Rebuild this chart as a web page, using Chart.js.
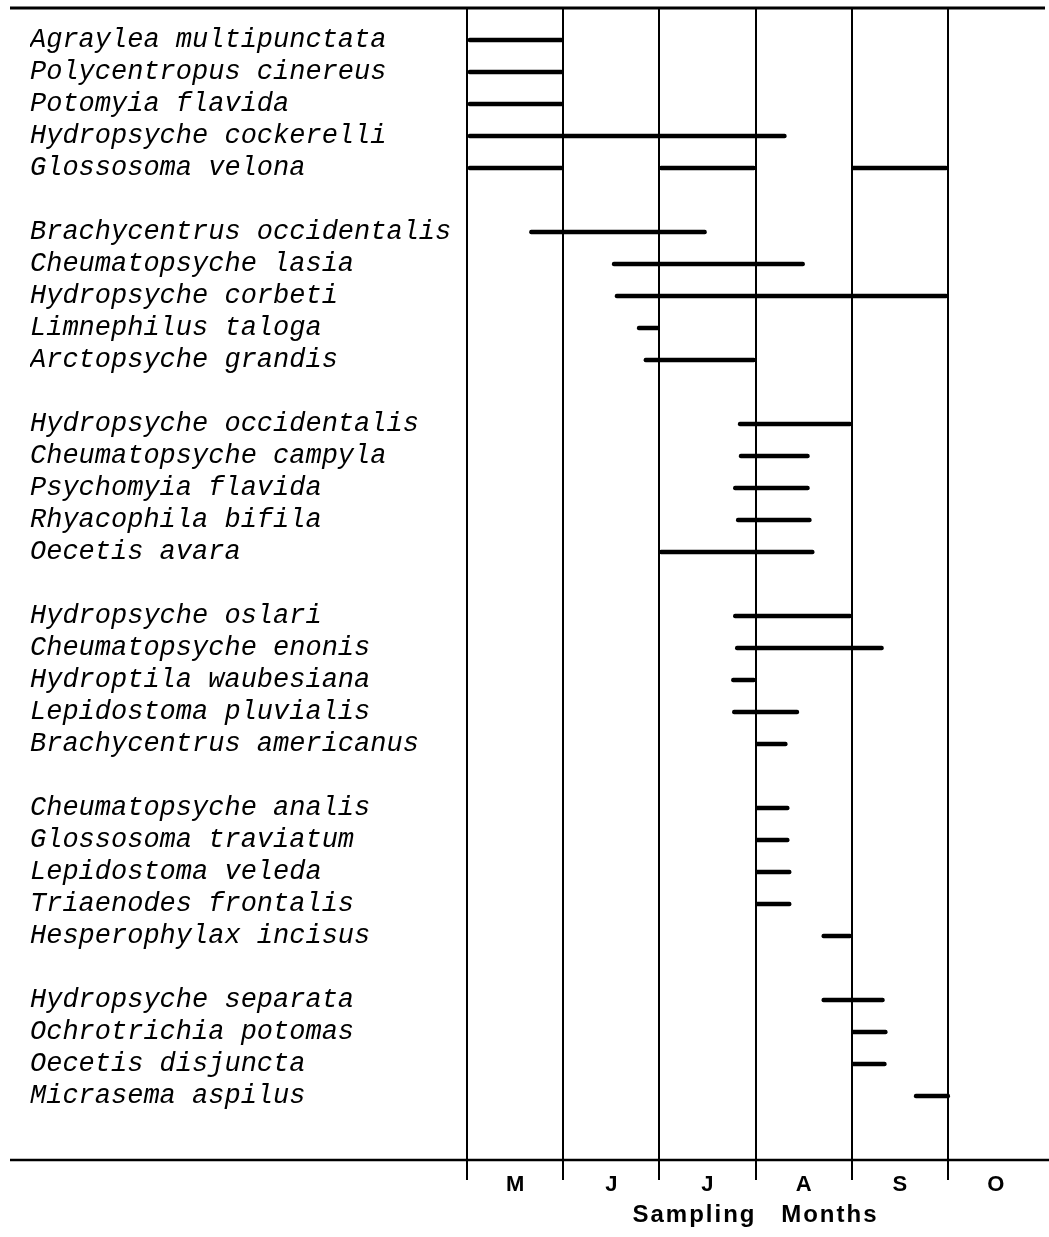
<!DOCTYPE html>
<html><head><meta charset="utf-8">
<script src="https://cdn.jsdelivr.net/npm/chart.js@4/dist/chart.umd.min.js"></script>
<style>html,body{margin:0;padding:0;background:#fff;} canvas{display:block;}</style>
</head><body>
<canvas id="c" width="1049" height="1237"></canvas>
<script>
// ---- data ----
const months = ['M', 'J', 'J', 'A', 'S', 'O'];
const groupSizes = [5, 5, 5, 5, 5, 4];
const species = [
  'Agraylea multipunctata', 'Polycentropus cinereus', 'Potomyia flavida', 'Hydropsyche cockerelli', 'Glossosoma velona',
  'Brachycentrus occidentalis', 'Cheumatopsyche lasia', 'Hydropsyche corbeti', 'Limnephilus taloga', 'Arctopsyche grandis',
  'Hydropsyche occidentalis', 'Cheumatopsyche campyla', 'Psychomyia flavida', 'Rhyacophila bifila', 'Oecetis avara',
  'Hydropsyche oslari', 'Cheumatopsyche enonis', 'Hydroptila waubesiana', 'Lepidostoma pluvialis', 'Brachycentrus americanus',
  'Cheumatopsyche analis', 'Glossosoma traviatum', 'Lepidostoma veleda', 'Triaenodes frontalis', 'Hesperophylax incisus',
  'Hydropsyche separata', 'Ochrotrichia potomas', 'Oecetis disjuncta', 'Micrasema aspilus'
];
// months since start of May (0 = 1 May, 1 = 1 June, ...)
const firstFrom = [
  0.00, 0.00, 0.00, 0.00, 0.00,
  0.65, 1.51, 1.54, 1.77, 1.84,
  2.82, 2.83, 2.77, 2.80, 2.00,
  2.77, 2.79, 2.75, 2.76, 3.00,
  3.00, 3.00, 3.00, 3.00, 3.69,
  3.69, 4.00, 4.00, 4.65
];
const firstTo = [
  1.00, 1.00, 1.00, 3.32, 1.00,
  2.49, 3.51, 5.00, 2.00, 3.00,
  4.00, 3.56, 3.56, 3.58, 3.61,
  4.00, 4.33, 3.00, 3.45, 3.33,
  3.35, 3.35, 3.37, 3.37, 4.00,
  4.34, 4.37, 4.36, 5.02
];
const extraSpecies = ['Glossosoma velona', 'Glossosoma velona'];
const extraFrom = [2.00, 4.00];
const extraTo = [3.00, 5.00];

// ---- build category rows (blank rows separate groups) ----
const labels = [''];
const rowOf = {};
let k = 0;
groupSizes.forEach((n, g) => {
  if (g > 0) labels.push('');
  for (let i = 0; i < n; i++) { rowOf[species[k]] = labels.length; labels.push(species[k]); k++; }
});
labels.push('', '');

const mainData = labels.map(() => null);
species.forEach((s, i) => { mainData[rowOf[s]] = [firstFrom[i], firstTo[i]]; });
const extraData = extraSpecies.map((s, i) => {
  const d = labels.map(() => null);
  d[rowOf[s]] = [extraFrom[i], extraTo[i]];
  return d;
});

const barStyle = {
  backgroundColor: '#000', borderWidth: 0, borderSkipped: false,
  borderRadius: 2, barThickness: 4, grouped: false
};
const datasets = [Object.assign({ data: mainData }, barStyle)]
  .concat(extraData.map(d => Object.assign({ data: d }, barStyle)));

// letter spacing for the axis title (canvas property)
if (Chart.Scale && Chart.Scale.prototype.drawTitle) {
  const origTitle = Chart.Scale.prototype.drawTitle;
  Chart.Scale.prototype.drawTitle = function () {
    const ctx = this.ctx;
    ctx.save();
    if ('letterSpacing' in ctx) ctx.letterSpacing = '2px';
    if ('wordSpacing' in ctx) ctx.wordSpacing = '16px';
    origTitle.apply(this, arguments);
    ctx.restore();
  };
}

const frameLines = {
  id: 'frameLines',
  afterDraw(chart) {
    const { ctx, chartArea } = chart;
    const left = chart.scales.y.left - 20;
    ctx.save();
    ctx.strokeStyle = '#000';
    ctx.lineWidth = 3;
    ctx.beginPath(); ctx.moveTo(left, chartArea.top); ctx.lineTo(chartArea.right + 1, chartArea.top); ctx.stroke();
    ctx.lineWidth = 2.5;
    ctx.beginPath(); ctx.moveTo(left, chartArea.bottom); ctx.lineTo(chart.width, chartArea.bottom); ctx.stroke();
    ctx.restore();
  }
};

new Chart(document.getElementById('c'), {
  type: 'bar',
  data: { labels: labels, datasets: datasets },
  plugins: [frameLines],
  options: {
    indexAxis: 'y',
    responsive: false,
    animation: false,
    devicePixelRatio: 1,
    layout: { padding: { left: 30, top: 8, right: 5, bottom: 0 } },
    plugins: { legend: { display: false }, tooltip: { enabled: false } },
    scales: {
      y: {
        type: 'category', offset: false,
        grid: { display: false }, border: { display: false },
        ticks: {
          crossAlign: 'far', autoSkip: false, color: '#000', padding: 0,
          font: { family: '"Liberation Mono", "DejaVu Sans Mono", monospace', size: 27, style: 'italic' }
        },
        afterFit: s => { s.width = 437; s.paddingTop = 0; s.paddingBottom = 0; }
      },
      x: {
        type: 'linear', min: 0, max: 6,
        border: { display: false },
        afterBuildTicks: s => {
          const t = [];
          months.forEach((m, i) => { t.push({ value: i }); t.push({ value: i + 0.5 }); });
          t.push({ value: months.length });
          s.ticks = t;
        },
        grid: {
          color: c => (c.tick && Number.isInteger(c.tick.value) && c.tick.value < months.length) ? '#000' : 'rgba(0,0,0,0)',
          lineWidth: 2, tickLength: 20, drawOnChartArea: true, drawTicks: true
        },
        ticks: {
          autoSkip: false, maxRotation: 0, color: '#000', padding: -8,
          font: { family: '"Liberation Sans", Arial, sans-serif', size: 22, weight: 'bold' },
          callback: v => (Math.abs(v % 1 - 0.5) < 1e-9) ? months[Math.floor(v)] : ''
        },
        title: {
          display: true, text: 'Sampling Months', color: '#000',
          font: { family: '"Liberation Sans", Arial, sans-serif', size: 24, weight: 'bold' },
          padding: { top: 0, bottom: 7 }
        },
        afterFit: s => { s.height = 77; s.paddingLeft = 0; s.paddingRight = 0; }
      }
    }
  }
});
</script>
</body></html>
